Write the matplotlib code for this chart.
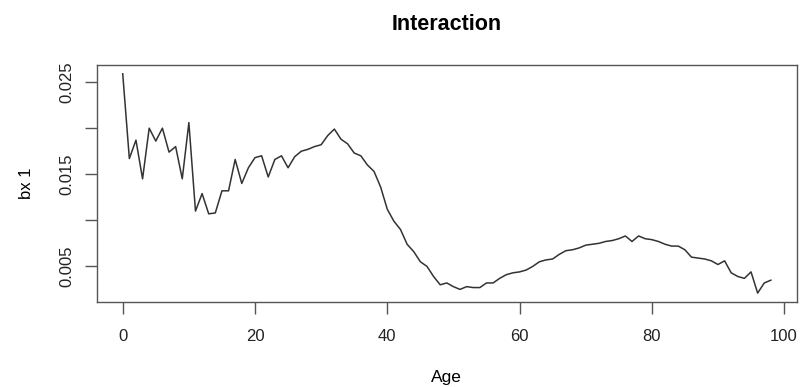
import matplotlib.pyplot as plt

plt.rcParams['font.family'] = ['Liberation Sans', 'DejaVu Sans']

# interaction coefficient bx 1 by single year of age
age = list(range(0, 99))
bx1 = [0.0259, 0.0167, 0.0187, 0.0145, 0.0200, 0.0186, 0.0200, 0.0174, 0.0180, 0.0145,
       0.0206, 0.0110, 0.0129, 0.0107, 0.0108, 0.0132, 0.0132, 0.0166, 0.0140, 0.0157,
       0.0168, 0.0170, 0.0147, 0.0166, 0.0170, 0.0157, 0.0169, 0.0175, 0.0177, 0.0180,
       0.0182, 0.0192, 0.0199, 0.0188, 0.0183, 0.0173, 0.0170, 0.0160, 0.0153, 0.0136,
       0.0112, 0.0099, 0.0090, 0.0074, 0.0066, 0.0055, 0.0050, 0.0039, 0.0030, 0.0032,
       0.0028, 0.0025, 0.0028, 0.0027, 0.0027, 0.0032, 0.0032, 0.0037, 0.0041, 0.0043,
       0.0044, 0.0046, 0.0050, 0.0055, 0.0057, 0.0058, 0.0063, 0.0067, 0.0068, 0.0070,
       0.0073, 0.0074, 0.0075, 0.0077, 0.0078, 0.0080, 0.0083, 0.0077, 0.0083, 0.0080,
       0.0079, 0.0077, 0.0074, 0.0072, 0.0072, 0.0068, 0.0060, 0.0059, 0.0058, 0.0056,
       0.0052, 0.0056, 0.0043, 0.0039, 0.0037, 0.0044, 0.0021, 0.0032, 0.0035]

xticks = [0, 20, 40, 60, 80, 100]
yticks = [0.005, 0.010, 0.015, 0.020, 0.025]
ylabels = ['0.005', '', '0.015', '', '0.025']

fig = plt.figure(figsize=(8, 3.87), dpi=100)
ax = fig.add_axes([0.121, 0.22, 0.875, 0.612])

ax.plot(age, bx1, color='#333333', lw=1.1)

# R-style 4% padding around the data range
xr = max(age) - min(age)
yr = max(bx1) - min(bx1)
ax.set_xlim(min(age) - 0.04 * xr, max(age) + 0.04 * xr)
ax.set_ylim(min(bx1) - 0.04 * yr, max(bx1) + 0.04 * yr)

ax.set_xticks(xticks)
ax.set_yticks(yticks)
ax.set_yticklabels(ylabels, rotation=90, va='center')
ax.tick_params(direction='out', length=8.5, width=1, color='#555555',
               labelsize=12, labelcolor='#222222')
ax.tick_params(axis='x', pad=11)
ax.tick_params(axis='y', pad=8)

for s in ax.spines.values():
    s.set_color('#555555')
    s.set_linewidth(1)

ax.set_title('Interaction', fontsize=15.5, fontweight='bold', pad=25)
ax.set_xlabel('Age', fontsize=12.5, labelpad=19)
ax.set_ylabel('bx 1', fontsize=12, labelpad=18)

fig.savefig('out.png', dpi=100)
